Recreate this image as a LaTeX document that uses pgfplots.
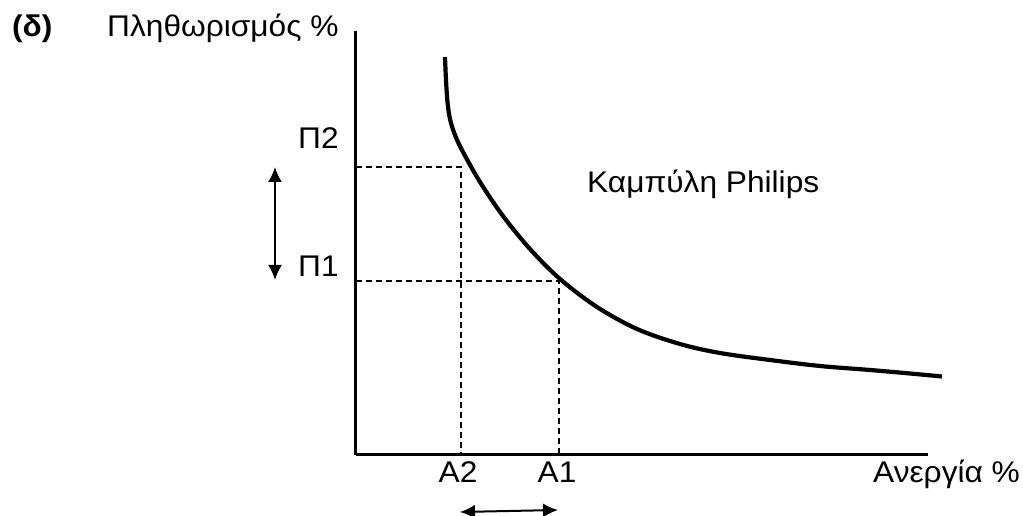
\documentclass[border=0pt]{standalone}
\usepackage{fontspec}
\setmainfont{Liberation Sans}[FakeStretch=1.06]
\usepackage{pgfplots}
\pgfplotsset{compat=1.18}
\usetikzlibrary{arrows.meta}
\begin{document}
\begin{tikzpicture}[lbl/.style={font=\fontsize{30}{36}\selectfont, inner sep=0pt}]
\begin{axis}[
  x=1bp, y=1bp,
  xmin=356, xmax=928, ymin=61, ymax=485,
  axis lines=left,
  axis line style={line width=3bp, -},
  ticks=none,
  clip=false,
]
% Phillips curve (pixel-like units)
\addplot[line width=4.2bp, black, smooth, tension=0.55] coordinates {
(445,459) (446,436) (447.5,414) (450,397) (455,381) (463,364) (480,334)
(503,300) (530,267) (560,237) (597,209) (637,187) (680,172) (720,163)
(770,156) (820,150) (870,146) (910,142.5) (942,139.5)
};
% dashed guide lines
\addplot[line width=1.3bp, dash pattern=on 6bp off 4bp] coordinates {(356,349) (461,349) (461,61)};
\addplot[line width=1.3bp, dash pattern=on 6bp off 4bp] coordinates {(356,235) (559,235) (559,61)};
% arrows
\draw[line width=2bp, {Latex[length=15bp,width=14bp]}-{Latex[length=15bp,width=14bp]}] (axis cs:275,349) -- (axis cs:275,236);
\draw[line width=2bp, {Latex[length=15bp,width=14bp]}-{Latex[length=15bp,width=14bp]}] (axis cs:460,4) -- (axis cs:558,6);
% labels
\node[lbl, anchor=base west] at (axis cs:12,479) {\textbf{(δ)}};
\node[lbl, anchor=base west] at (axis cs:107,479) {Πληθωρισμός \%};
\node[lbl, anchor=base west] at (axis cs:298,367) {Π2};
\node[lbl, anchor=base west] at (axis cs:298,239) {Π1};
\node[lbl, anchor=base west] at (axis cs:587,323) {Καμπύλη Philips};
\node[lbl, anchor=base] at (axis cs:458,33) {Α2};
\node[lbl, anchor=base] at (axis cs:557,33) {Α1};
\node[lbl, anchor=base west] at (axis cs:873,33) {Ανεργία \%};
\coordinate (BL) at (axis cs:0,0);
\coordinate (TR) at (axis cs:1023,516);
\end{axis}
\pgfresetboundingbox
\path[use as bounding box] (BL) rectangle (TR);
\end{tikzpicture}
\end{document}
